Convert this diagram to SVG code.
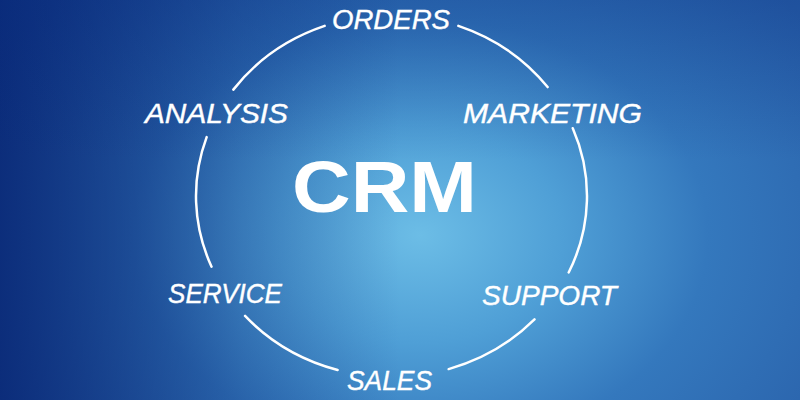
<svg xmlns="http://www.w3.org/2000/svg" width="800" height="400" viewBox="0 0 800 400">
  <defs>
    <radialGradient id="bg" gradientUnits="userSpaceOnUse" cx="420" cy="235" r="480" gradientTransform="translate(420 235) scale(1 0.75) translate(-420 -235)">
      <stop offset="0" stop-color="#6cbde6"/>
      <stop offset="0.3" stop-color="#4f9fd6"/>
      <stop offset="0.6" stop-color="#3478bd"/>
      <stop offset="1" stop-color="#2a62ab"/>
    </radialGradient>
    <linearGradient id="shadeL" x1="0" y1="0" x2="1" y2="0">
      <stop offset="0" stop-color="#041f6e" stop-opacity="0.8"/>
      <stop offset="0.3" stop-color="#041f6e" stop-opacity="0.25"/>
      <stop offset="0.5" stop-color="#041f6e" stop-opacity="0"/>
    </linearGradient>
    <linearGradient id="shadeT" x1="0" y1="0" x2="0" y2="1">
      <stop offset="0" stop-color="#062a7e" stop-opacity="0.3"/>
      <stop offset="0.4" stop-color="#062a7e" stop-opacity="0"/>
    </linearGradient>
  </defs>
  <style>
    .lbl { font-family: "Liberation Sans", Arial, sans-serif; font-style: italic; font-size: 28px; fill: #ffffff; stroke: #ffffff; stroke-width: 0.4; }
    .title { font-family: "Liberation Sans", Arial, sans-serif; font-weight: bold; font-size: 72px; fill: #ffffff; }
    .arc { fill: none; stroke: #ffffff; stroke-width: 2.5; stroke-linecap: round; }
  </style>
  <rect width="800" height="400" fill="url(#bg)"/>
  <rect width="800" height="400" fill="url(#shadeL)"/>
  <rect width="800" height="400" fill="url(#shadeT)"/>

  <g id="connectors">
    <path class="arc" d="M458.36 25.91 A195.5 181 0 0 1 547.63 87.07"/>
    <path class="arc" d="M572.77 128.2 A195.5 181 0 0 1 568.68 272.49"/>
    <path class="arc" d="M534.49 319.44 A195.5 181 0 0 1 448.66 369.09"/>
    <path class="arc" d="M337.62 369.99 A195.5 181 0 0 1 245.07 315.93"/>
    <path class="arc" d="M211.54 266.72 A195.5 181 0 0 1 206.65 137.07"/>
    <path class="arc" d="M233.34 89.61 A195.5 181 0 0 1 324.64 25.91"/>
  </g>

  <g id="crm"><text class="title" x="292" y="212" textLength="185" lengthAdjust="spacingAndGlyphs">CRM</text></g>
  <g id="orders"><text class="lbl" x="332" y="29" textLength="118" lengthAdjust="spacingAndGlyphs">ORDERS</text></g>
  <g id="marketing"><text class="lbl" x="463" y="123" textLength="179" lengthAdjust="spacingAndGlyphs">MARKETING</text></g>
  <g id="support"><text class="lbl" x="482" y="305" textLength="135" lengthAdjust="spacingAndGlyphs">SUPPORT</text></g>
  <g id="sales"><text class="lbl" x="347" y="390" textLength="85" lengthAdjust="spacingAndGlyphs">SALES</text></g>
  <g id="service"><text class="lbl" x="168" y="303" textLength="114" lengthAdjust="spacingAndGlyphs">SERVICE</text></g>
  <g id="analysis"><text class="lbl" x="145" y="123" textLength="143" lengthAdjust="spacingAndGlyphs">ANALYSIS</text></g>
</svg>
